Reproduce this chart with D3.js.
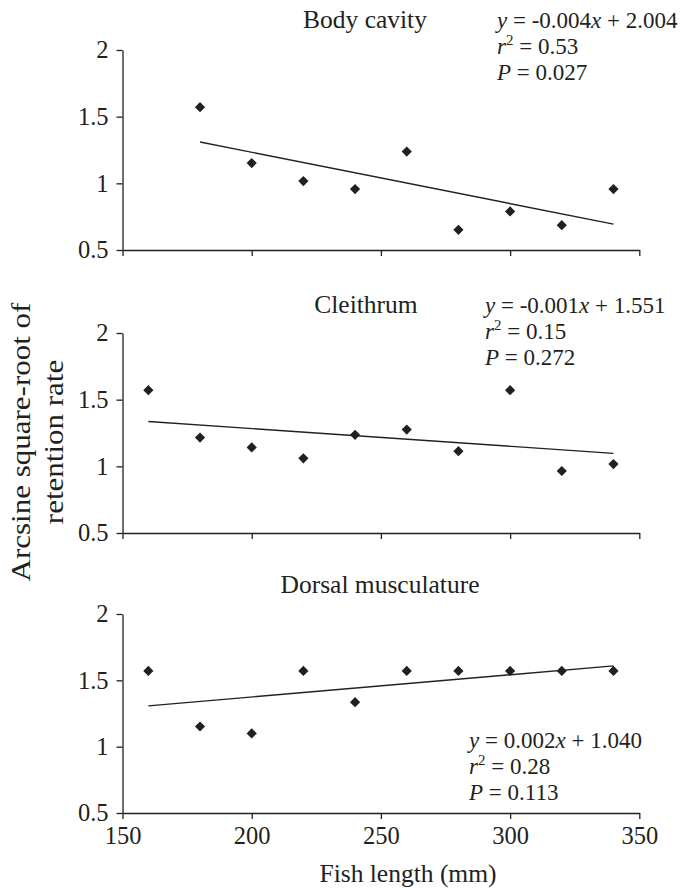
<!DOCTYPE html>
<html lang="en">
<head>
    <meta charset="UTF-8">
    <title>Retention rate vs fish length</title>
    <style>
        body { margin: 0; background: #fff; }
        svg text { font-family: "Liberation Serif", "Times New Roman", serif; fill: #231f20; }
        .axis path, .axis line { stroke: #231f20; stroke-width: 1.3px; }
        .axis text { font-size: 24.5px; }
        .trend { fill: none; stroke: #231f20; stroke-width: 1.4px; }
        .title { font-size: 25.5px; }
        .ylab { font-size: 31px; }
        .eq { font-size: 23px; }
    </style>
    <script src="https://d3js.org/d3.v7.min.js"></script>
</head>
<body>
<div id="chart"></div>
<script>
    // fish length (mm)
    const lengthsBody = [180, 200, 220, 240, 260, 280, 300, 320, 340];
    const lengthsAll = [160, 180, 200, 220, 240, 260, 280, 300, 320, 340];

    // arcsine square-root of retention rate
    const bodyCavity = [1.571, 1.152, 1.017, 0.957, 1.238, 0.651, 0.789, 0.686, 0.957];
    const cleithrum = [1.571, 1.216, 1.142, 1.060, 1.236, 1.276, 1.114, 1.571, 0.965, 1.017];
    const dorsal = [1.571, 1.152, 1.100, 1.571, 1.335, 1.571, 1.571, 1.571, 1.571, 1.571];

    const xTicks = [150, 200, 250, 300, 350];
    const yTicks = [0.5, 1, 1.5, 2];

    const titles = ["Body cavity", "Cleithrum", "Dorsal musculature"];
    const eqLines = [
        ["-0.004", "2.004", "0.53", "0.027"],
        ["-0.001", "1.551", "0.15", "0.272"],
        ["0.002", "1.040", "0.28", "0.113"]
    ];

    const width = 680, height = 892;
    const svg = d3.select("#chart").append("svg")
        .attr("width", width)
        .attr("height", height);

    const x = d3.scaleLinear().domain([150, 350]).range([122.5, 639.3]);

    const panels = [
        { xs: lengthsBody, ys: bodyCavity, top: 50, bottom: 250, titleX: 365, titleY: 28, eqX: 497, eqY: 28 },
        { xs: lengthsAll, ys: cleithrum, top: 333, bottom: 533, titleX: 366, titleY: 313, eqX: 485, eqY: 313 },
        { xs: lengthsAll, ys: dorsal, top: 614, bottom: 813, titleX: 380, titleY: 593, eqX: 469, eqY: 748 }
    ];

    // least squares fit
    function fit(xs, ys) {
        const mx = d3.mean(xs), my = d3.mean(ys);
        let sxy = 0, sxx = 0;
        xs.forEach((v, i) => {
            sxy += (v - mx) * (ys[i] - my);
            sxx += (v - mx) * (v - mx);
        });
        const b = sxy / sxx;
        return v => my + b * (v - mx);
    }

    const diamond = d3.symbol().type(d3.symbolSquare).size(52);

    panels.forEach((p, k) => {
        const y = d3.scaleLinear().domain([0.5, 2]).range([p.bottom, p.top]);
        const g = svg.append("g");

        const xAxis = d3.axisBottom(x).tickValues(xTicks).tickSize(6).tickSizeOuter(0).tickPadding(8);
        if (k < 2) xAxis.tickFormat("");
        g.append("g")
            .attr("class", "axis")
            .attr("transform", `translate(0,${p.bottom})`)
            .call(xAxis);

        g.append("g")
            .attr("class", "axis")
            .attr("transform", `translate(${x(150)},0)`)
            .call(d3.axisLeft(y).tickValues(yTicks).tickSize(6).tickSizeOuter(0).tickPadding(8)
                .tickFormat(d3.format("")));

        // trend line
        const f = fit(p.xs, p.ys);
        const ends = d3.extent(p.xs);
        g.append("path")
            .attr("class", "trend")
            .attr("d", d3.line().x(d => x(d)).y(d => y(f(d)))(ends));

        // points
        g.selectAll(".pt")
            .data(p.xs.map((v, i) => [v, p.ys[i]]))
            .enter().append("path")
            .attr("class", "pt")
            .attr("d", diamond)
            .attr("fill", "#231f20")
            .attr("transform", d => `translate(${x(d[0])},${y(d[1])}) rotate(45)`);

        g.append("text")
            .attr("class", "title")
            .attr("x", p.titleX)
            .attr("y", p.titleY)
            .attr("text-anchor", "middle")
            .text(titles[k]);

        const e = eqLines[k];
        const eq = g.append("g").attr("class", "eq");
        const l1 = eq.append("text").attr("x", p.eqX).attr("y", p.eqY);
        l1.append("tspan").attr("font-style", "italic").text("y");
        l1.append("tspan").text(" = " + e[0]);
        l1.append("tspan").attr("font-style", "italic").text("x");
        l1.append("tspan").text(" + " + e[1]);

        const l2 = eq.append("text").attr("x", p.eqX).attr("y", p.eqY + 26);
        l2.append("tspan").attr("font-style", "italic").text("r");
        l2.append("tspan").attr("font-size", "15px").attr("dy", -9).text("2");
        l2.append("tspan").attr("dy", 9).text(" = " + e[2]);

        const l3 = eq.append("text").attr("x", p.eqX).attr("y", p.eqY + 52);
        l3.append("tspan").attr("font-style", "italic").text("P");
        l3.append("tspan").text(" = " + e[3]);
    });

    // axis titles
    svg.append("text")
        .attr("class", "title")
        .attr("x", 408)
        .attr("y", 882)
        .attr("text-anchor", "middle")
        .text("Fish length (mm)");

    // rotated label, glyphs slightly condensed like the original
    const yLab = svg.append("text")
        .attr("class", "ylab")
        .attr("transform", "translate(0,442) rotate(-90) scale(1,0.9)")
        .attr("text-anchor", "middle");
    yLab.append("tspan").attr("x", 0).attr("y", 33).text("Arcsine square-root of");
    yLab.append("tspan").attr("x", 0).attr("y", 70).text("retention rate");
</script>
</body>
</html>
